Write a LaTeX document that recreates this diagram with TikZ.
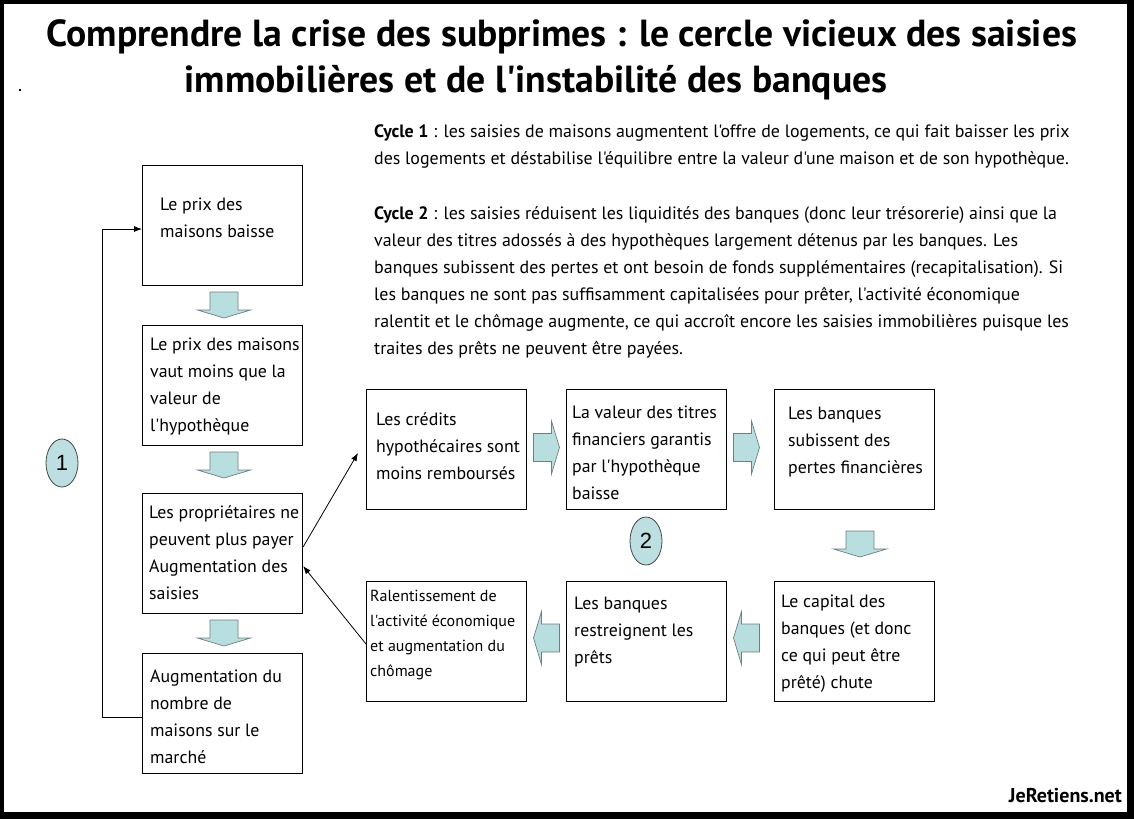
\documentclass[tikz,border=0pt]{standalone}
\usepackage{fontspec}
\setmainfont{PT Sans}[Ligatures=TeXOff]
\newfontfamily\numfont{Liberation Sans}
\usetikzlibrary{arrows.meta,calc,shapes.geometric}
\definecolor{arrowfill}{HTML}{B9DEE0}
\definecolor{arrowline}{HTML}{6E7F80}
\definecolor{ovalfill}{HTML}{BEDFE2}
\definecolor{ovalline}{HTML}{404848}
\tikzset{
  box/.style={draw=black, line width=1.1pt, minimum width=160, minimum height=120, inner sep=0, anchor=north west},
  txt/.style={anchor=west, align=left, inner sep=0, font=\fontsize{17.8}{27}\selectfont},
  smalltxt/.style={anchor=west, align=left, inner sep=0, font=\fontsize{16}{25}\selectfont},
  para/.style={anchor=west, align=left, inner sep=0, font=\fontsize{17.9}{27}\selectfont},
  titletxt/.style={inner sep=0, font=\bfseries\fontsize{37.7}{40}\selectfont},
  oval/.style={ellipse, draw=ovalline, fill=ovalfill, line width=0.8pt, minimum width=32, minimum height=48, inner sep=0, font=\numfont\fontsize{22}{24}\selectfont},
  barrow/.style={draw=arrowline, fill=arrowfill, line width=0.7pt, line join=miter},
  conn/.style={draw=black, line width=0.8pt, -{Latex[length=8pt,width=6pt]}},
}
\newcommand{\blockarrow}[3]{%
  \path[barrow, shift={(#1,#2)}, rotate=#3]
    (-13,-14) -- (5,-14) -- (5,-26.5) -- (13,0) -- (5,26.5) -- (5,14) -- (-13,14) -- cycle;}
\begin{document}
\begin{tikzpicture}[x=1pt,y=-1pt]
\useasboundingbox (0,0) rectangle (1134,819);
\fill[black] (0,0) rectangle (1134,819);
\fill[white] (4,4) rectangle (1127,812);
\fill[black] (19,89) rectangle (21,91);

% title
\node[titletxt] (t1) at (562,37) {Comprendre la crise des subprimes : le cercle vicieux des saisies};
\node[titletxt] (t2) at (536,83) {immobilières et de l'instabilité des banques};

% paragraphs
\node[para] (p1) at (374,147) {\textbf{Cycle 1} : les saisies de maisons augmentent l'offre de logements, ce qui fait baisser les prix\\des logements et déstabilise l'équilibre entre la valeur d'une maison et de son hypothèque.};
\node[para] (p2) at (374,282.5) {\textbf{Cycle 2} : les saisies réduisent les liquidités des banques (donc leur trésorerie) ainsi que la\\valeur des titres adossés à des hypothèques largement détenus par les banques. Les\\banques subissent des pertes et ont besoin de fonds supplémentaires (recapitalisation). Si\\les banques ne sont pas suffisamment capitalisées pour prêter, l'activité économique\\ralentit et le chômage augmente, ce qui accroît encore les saisies immobilières puisque les\\traites des prêts ne peuvent être payées.};

% left column boxes
\node[box] (A) at (142,165) {};
\node[box] (B) at (142,325) {};
\node[box] (C) at (142,493) {};
\node[box] (D) at (142,653) {};
\node[txt] (tA) at (160,217.5) {Le prix des\\maisons baisse};
\node[txt] (tB) at (150,386.5) {Le prix des maisons\\vaut moins que la\\valeur de\\l'hypothèque};
\node[txt] (tC) at (149,552.5) {Les propriétaires ne\\peuvent plus payer\\Augmentation des\\saisies};
\node[txt] (tD) at (150,716.5) {Augmentation du\\nombre de\\maisons sur le\\marché};

% right boxes
\node[box] (R1) at (366,389) {};
\node[box] (R2) at (566,389) {};
\node[box] (R3) at (774,389) {};
\node[box] (R4) at (774,581) {};
\node[box] (R5) at (566,581) {};
\node[box] (R6) at (366,581) {};
\node[txt] (tR1) at (376,446) {Les crédits\\hypothécaires sont\\moins remboursés};
\node[txt] (tR2) at (572,452.5) {La valeur des titres\\financiers garantis\\par l'hypothèque\\baisse};
\node[txt] (tR3) at (788,442) {Les banques\\subissent des\\pertes financières};
\node[txt] (tR4) at (781,643.5) {Le capital des\\banques (et donc\\ce qui peut être\\prêté) chute};
\node[txt] (tR5) at (574,632) {Les banques\\restreignent les\\prêts};
\node[smalltxt] (tR6) at (370,635.5) {Ralentissement de\\l'activité économique\\et augmentation du\\chômage};

% block arrows
\blockarrow{224}{305}{-90}
\blockarrow{224}{465}{-90}
\blockarrow{224}{633}{-90}
\blockarrow{546.5}{447.5}{0}
\blockarrow{746.5}{447.5}{0}
\blockarrow{860}{544}{-90}
\blockarrow{746.5}{638}{180}
\blockarrow{546.5}{638}{180}

% ovals
\node[oval] (o1) at (62,463) {1};
\node[oval] (o2) at (646,541) {2};

% feedback loop
\coordinate (fb1) at (102,717);
\coordinate (fb2) at (102,229);
\draw[conn] (D.west |- fb1) -- (fb1) -- (fb2) -- (A.west |- fb2);

% thin arrows
\coordinate (s1) at (302,547);
\coordinate (e1) at (358,453);
\coordinate (s2) at (366,644);
\coordinate (e2) at (302,566);
\draw[conn] (C.east |- s1) -- (e1);
\draw[conn] (R6.west |- s2) -- (C.east |- e2);

% logo
\node[anchor=east, inner sep=0, font=\bfseries\fontsize{20}{22}\selectfont] (logo) at (1122,796) {JeRetiens.net};
\end{tikzpicture}
\end{document}
